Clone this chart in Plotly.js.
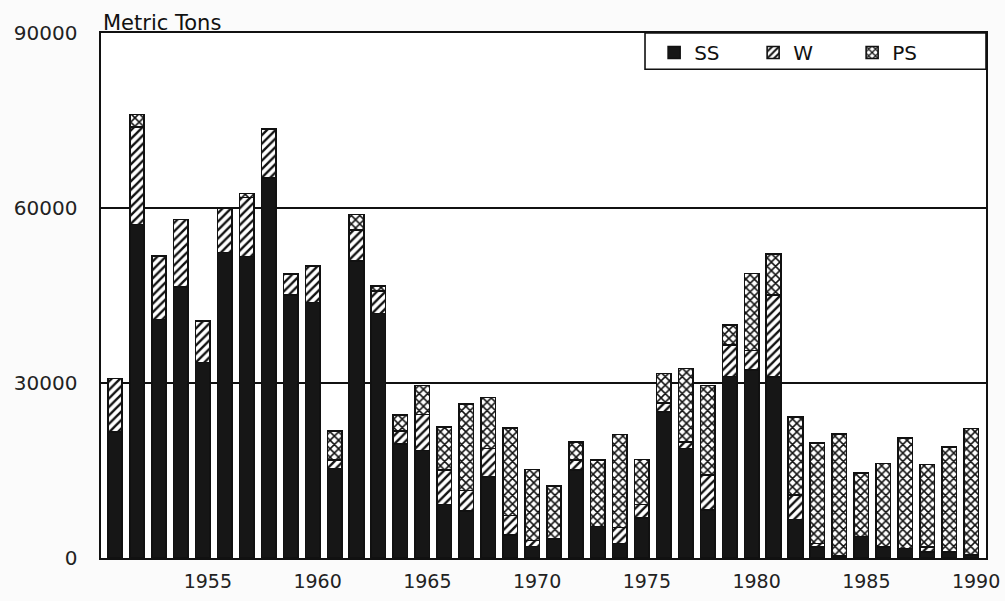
<!DOCTYPE html>
<html>
<head>
<meta charset="utf-8">
<script src="https://cdn.plot.ly/plotly-3.0.1.min.js"></script>
<style>
html,body{margin:0;padding:0;background:#fbfbfb;}
#chart{width:1005px;height:601px;}
</style>
</head>
<body>
<div id="chart"></div>
<script>
const years = [1951,1952,1953,1954,1955,1956,1957,1958,1959,1960,
               1961,1962,1963,1964,1965,1966,1967,1968,1969,1970,
               1971,1972,1973,1974,1975,1976,1977,1978,1979,1980,
               1981,1982,1983,1984,1985,1986,1987,1988,1989,1990];
const ss = [21600,57200,40900,46500,33500,52400,51700,65100,45100,43800,
            15300,50900,41900,19500,18400,9200,8100,13900,3900,2000,
            3300,15100,5400,2500,6900,25000,18800,8200,31100,32200,
            31000,6600,1900,300,3700,1900,1600,1000,1000,500];
const w  = [9200,16700,10900,11500,7100,7600,10100,8400,3600,6300,
            1500,5300,3900,2300,6200,5900,3500,4900,3400,1000,
            null,1700,null,2700,2300,1600,1100,6000,5400,3400,
            14100,4200,600,null,null,null,null,900,null,null];
const ps = [null,2100,null,null,null,null,700,null,null,null,
            5000,2700,800,2700,5000,7400,14800,8700,15000,12200,
            9000,3100,11400,16000,7700,5000,12600,15400,3400,13200,
            7000,13400,17200,21000,10900,14300,19000,14100,18000,21700];
const seriesNames = ["SS","W","PS"];
const yTicks = [0,30000,60000,90000];
const yTickText = ["0","30000","60000","90000"];
const xTicks = [1955,1960,1965,1970,1975,1980,1985,1990];

const lineStyle = {color:"#111", width:1.6};
const traces = [
  {type:"bar", name:seriesNames[0], x:years, y:ss,
   marker:{color:"#161616", line:lineStyle}},
  {type:"bar", name:seriesNames[1], x:years, y:w,
   marker:{color:"#ffffff", line:lineStyle,
           pattern:{shape:"/", fgcolor:"#111", bgcolor:"#ffffff", size:6, solidity:0.4}}},
  {type:"bar", name:seriesNames[2], x:years, y:ps,
   marker:{color:"#ffffff", line:lineStyle,
           pattern:{shape:"x", fgcolor:"#111", bgcolor:"#ffffff", size:6, solidity:0.45}}}
];

const fontFam = "DejaVu Sans, Verdana, sans-serif";
const layout = {
  width:1005, height:601,
  margin:{l:101, r:19, t:33, b:43},
  paper_bgcolor:"#fbfbfb",
  plot_bgcolor:"#ffffff",
  barmode:"stack",
  bargap:0.34,
  showlegend:true,
  legend:{orientation:"h", x:0.625, xanchor:"left", y:1, yanchor:"top",
          bgcolor:"rgba(0,0,0,0)", borderwidth:0,
          font:{family:fontFam, size:20, color:"#111"},
          entrywidth:54, traceorder:"normal", itemwidth:30},
  shapes:[{type:"rect", xref:"paper", yref:"paper",
           x0:0.6147, x1:1, y0:0.931, y1:1, layer:"above",
           fillcolor:"#ffffff", line:{color:"#111", width:1.6}}],
  xaxis:{range:[1950.36,1990.68], tickmode:"array", tickvals:xTicks,
         ticks:"", showgrid:false, zeroline:false,
         showline:true, mirror:true, linecolor:"#111", linewidth:1.6,
         tickfont:{family:fontFam, size:19, color:"#222"},
         ticklabelshift:5, ticklabelstandoff:6},
  yaxis:{range:[0,90000], tickmode:"array", tickvals:yTicks, ticktext:yTickText,
         ticks:"", showgrid:true, gridcolor:"#111", gridwidth:1.4,
         zeroline:false, showline:true, mirror:true,
         linecolor:"#111", linewidth:1.6,
         tickfont:{family:fontFam, size:20, color:"#222"},
         ticklabelstandoff:18},
  annotations:[{text:"Metric Tons", xref:"paper", yref:"paper", x:0, y:1,
                xanchor:"left", yanchor:"bottom", showarrow:false,
                xshift:0, yshift:-4,
                font:{family:fontFam, size:21, color:"#111"}}]
};
Plotly.newPlot("chart", traces, layout, {displayModeBar:false, staticPlot:true});
</script>
</body>
</html>
